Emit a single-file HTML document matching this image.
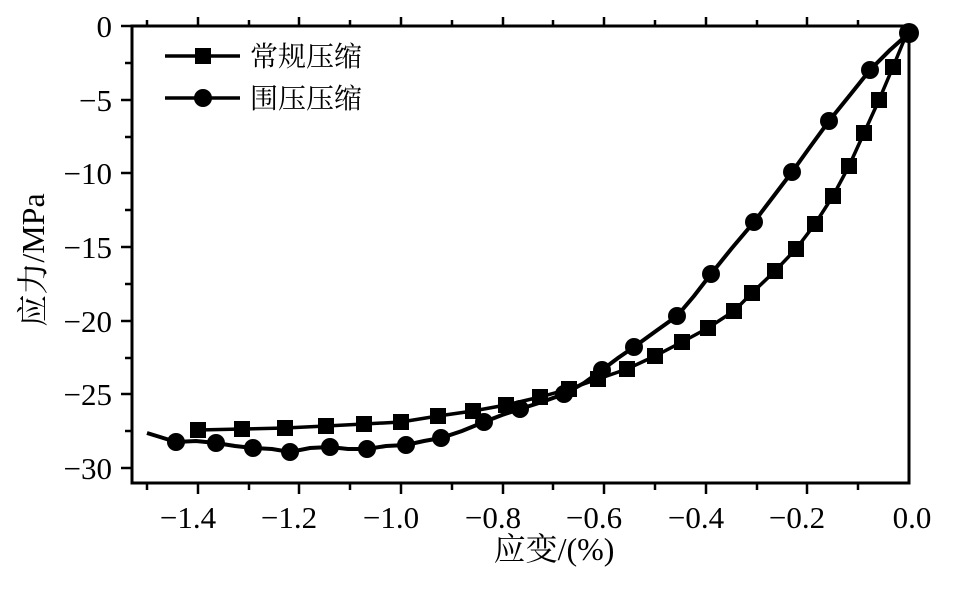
<!DOCTYPE html><html><head><style>body{margin:0;background:#fff}svg text{font-family:"Liberation Serif","Noto Serif CJK SC",serif;fill:#000}</style></head><body>
<svg width="979" height="595" xmlns="http://www.w3.org/2000/svg">
<g stroke="#000" stroke-width="3" fill="none">
<path d="M132,26 H909 V483 H132 Z"/>
</g>
<g stroke="#000" stroke-width="2.5">
<line x1="147" y1="483" x2="147" y2="490"/><line x1="198" y1="483" x2="198" y2="494"/><line x1="249" y1="483" x2="249" y2="490"/><line x1="299" y1="483" x2="299" y2="494"/><line x1="350" y1="483" x2="350" y2="490"/><line x1="401" y1="483" x2="401" y2="494"/><line x1="452" y1="483" x2="452" y2="490"/><line x1="503" y1="483" x2="503" y2="494"/><line x1="553" y1="483" x2="553" y2="490"/><line x1="604" y1="483" x2="604" y2="494"/><line x1="655" y1="483" x2="655" y2="490"/><line x1="706" y1="483" x2="706" y2="494"/><line x1="757" y1="483" x2="757" y2="490"/><line x1="807" y1="483" x2="807" y2="494"/><line x1="858" y1="483" x2="858" y2="490"/>
<line x1="147" y1="26" x2="147" y2="20"/><line x1="198" y1="26" x2="198" y2="17"/><line x1="249" y1="26" x2="249" y2="20"/><line x1="299" y1="26" x2="299" y2="17"/><line x1="350" y1="26" x2="350" y2="20"/><line x1="401" y1="26" x2="401" y2="17"/><line x1="452" y1="26" x2="452" y2="20"/><line x1="503" y1="26" x2="503" y2="17"/><line x1="553" y1="26" x2="553" y2="20"/><line x1="604" y1="26" x2="604" y2="17"/><line x1="655" y1="26" x2="655" y2="20"/><line x1="706" y1="26" x2="706" y2="17"/><line x1="757" y1="26" x2="757" y2="20"/><line x1="807" y1="26" x2="807" y2="17"/><line x1="858" y1="26" x2="858" y2="20"/>
<line x1="121" y1="26" x2="132" y2="26"/><line x1="125" y1="63" x2="132" y2="63"/><line x1="121" y1="100" x2="132" y2="100"/><line x1="125" y1="137" x2="132" y2="137"/><line x1="121" y1="173" x2="132" y2="173"/><line x1="125" y1="210" x2="132" y2="210"/><line x1="121" y1="247" x2="132" y2="247"/><line x1="125" y1="284" x2="132" y2="284"/><line x1="121" y1="321" x2="132" y2="321"/><line x1="125" y1="358" x2="132" y2="358"/><line x1="121" y1="394" x2="132" y2="394"/><line x1="125" y1="431" x2="132" y2="431"/><line x1="121" y1="468" x2="132" y2="468"/>
</g>
<g style="font-size:31px" text-anchor="end">
<text x="112" y="37">0</text><text x="112" y="111">−5</text><text x="112" y="184">−10</text><text x="112" y="258">−15</text><text x="112" y="332">−20</text><text x="112" y="405">−25</text><text x="112" y="479">−30</text>
</g>
<g style="font-size:31px" text-anchor="middle">
<text x="188" y="528">−1.4</text><text x="289" y="528">−1.2</text><text x="391" y="528">−1.0</text><text x="493" y="528">−0.8</text><text x="594" y="528">−0.6</text><text x="696" y="528">−0.4</text><text x="797" y="528">−0.2</text><text x="912" y="528">0.0</text>
</g>
<g style="font-size:32px" text-anchor="middle">
<text x="554" y="560">应变/(%)</text>
<text transform="translate(44,260) rotate(-90)">应力/MPa</text>
</g>
<polyline fill="none" stroke="#000" stroke-width="3.5" points="198,430 242,429 285,428 326,426 364,424 401,422 438,416 473,411 506,405 540,397 569,389 598,379 627,369 655,356 682,342 708,328 734,311 752,293 775,271 796,249 815,224 833,196 849,166 864,133 879,100 893,67 907,33"/>
<g fill="#000">
<rect x="190" y="422" width="16" height="16"/><rect x="234" y="421" width="16" height="16"/><rect x="277" y="420" width="16" height="16"/><rect x="318" y="418" width="16" height="16"/><rect x="356" y="416" width="16" height="16"/><rect x="393" y="414" width="16" height="16"/><rect x="430" y="408" width="16" height="16"/><rect x="465" y="403" width="16" height="16"/><rect x="498" y="397" width="16" height="16"/><rect x="532" y="389" width="16" height="16"/><rect x="561" y="381" width="16" height="16"/><rect x="590" y="371" width="16" height="16"/><rect x="619" y="361" width="16" height="16"/><rect x="647" y="348" width="16" height="16"/><rect x="674" y="334" width="16" height="16"/><rect x="700" y="320" width="16" height="16"/><rect x="726" y="303" width="16" height="16"/><rect x="744" y="285" width="16" height="16"/><rect x="767" y="263" width="16" height="16"/><rect x="788" y="241" width="16" height="16"/><rect x="807" y="216" width="16" height="16"/><rect x="825" y="188" width="16" height="16"/><rect x="841" y="158" width="16" height="16"/><rect x="856" y="125" width="16" height="16"/><rect x="871" y="92" width="16" height="16"/><rect x="885" y="59" width="16" height="16"/>
</g>
<polyline fill="none" stroke="#000" stroke-width="4" points="147,433 160,437 176,442 196,441 216,443 235,446 253,448 272,449 290,452 310,448 330,447 348,449 367,449 386,446 406,445 424,441 441,438 462,431 484,422 502,415 520,409 542,402 564,394 584,383 602,370 618,358 634,347 656,331 677,316 694,296 711,274 732,248 754,222 773,197 792,172 810,147 829,121 850,95 870,70 890,50 909,33"/>
<g fill="#000">
<circle cx="176" cy="442" r="9"/><circle cx="216" cy="443" r="9"/><circle cx="253" cy="448" r="9"/><circle cx="290" cy="452" r="9"/><circle cx="330" cy="447" r="9"/><circle cx="367" cy="449" r="9"/><circle cx="406" cy="445" r="9"/><circle cx="441" cy="438" r="9"/><circle cx="484" cy="422" r="9"/><circle cx="520" cy="409" r="9"/><circle cx="564" cy="394" r="9"/><circle cx="602" cy="370" r="9"/><circle cx="634" cy="347" r="9"/><circle cx="677" cy="316" r="9"/><circle cx="711" cy="274" r="9"/><circle cx="754" cy="222" r="9"/><circle cx="792" cy="172" r="9"/><circle cx="829" cy="121" r="9"/><circle cx="870" cy="70" r="9"/><circle cx="909" cy="33" r="10"/>
</g>
<g stroke="#000" stroke-width="3.5"><line x1="165" y1="56" x2="240" y2="56"/><line x1="165" y1="98" x2="240" y2="98"/></g>
<rect x="195" y="48" width="16" height="16" fill="#000"/><circle cx="203" cy="98" r="9" fill="#000"/>
<g style="font-size:28px"><text x="250" y="66">常规压缩</text><text x="250" y="108">围压压缩</text></g>
</svg></body></html>
